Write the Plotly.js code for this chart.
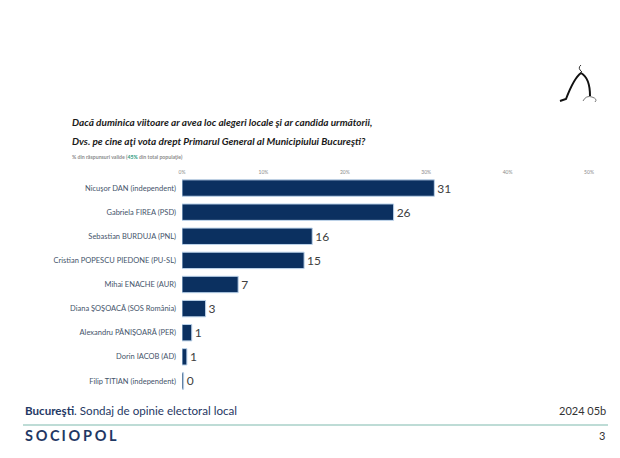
<!DOCTYPE html>
<html>
<head>
<meta charset="utf-8">
<script src="https://cdn.plot.ly/plotly-3.0.1.min.js"></script>
<style>html,body{margin:0;padding:0;background:#fff;}#chart{width:620px;height:458px;}</style>
</head>
<body>
<div id="chart"></div>
<script>
const candidates = [
  "Nicuşor DAN (independent)",
  "Gabriela FIREA (PSD)",
  "Sebastian BURDUJA (PNL)",
  "Cristian POPESCU PIEDONE (PU-SL)",
  "Mihai ENACHE (AUR)",
  "Diana ŞOŞOACĂ (SOS România)",
  "Alexandru PĂNIŞOARĂ (PER)",
  "Dorin IACOB (AD)",
  "Filip TITIAN (independent)"
];
const shares = [31, 26, 16, 15, 6.9, 2.9, 1.2, 0.6, 0.2];
const tickValues = [0, 10, 20, 30, 40, 50];
const tickLabels = ["0%", "10%", "20%", "30%", "40%", "50%"];

const W = 620, H = 458;
const px = x => x / W;
const py = y => 1 - y / H;

const trace = {
  type: 'bar',
  orientation: 'h',
  y: candidates,
  x: shares,
  marker: { color: '#0b3060', line: { color: '#bcd3ea', width: 1 } },
  text: shares.map(v => Math.round(v).toString()),
  textposition: 'outside',
  textfont: { family: 'Lato, "Open Sans", sans-serif', size: 12, color: '#404040' },
  cliponaxis: false,
  hoverinfo: 'skip'
};

const layout = {
  width: W, height: H,
  margin: { l: 0, r: 0, t: 0, b: 0 },
  paper_bgcolor: '#ffffff',
  plot_bgcolor: '#ffffff',
  showlegend: false,
  bargap: 0.32,
  xaxis: {
    domain: [px(182), px(589)],
    range: [0, 50],
    side: 'top',
    tickmode: 'array',
    tickvals: tickValues,
    ticktext: tickLabels,
    tickfont: { family: 'Lato, sans-serif', size: 5, color: '#8a8a8a' },
    showgrid: false, zeroline: false, showline: false, ticks: '',
    fixedrange: true
  },
  yaxis: {
    domain: [py(393), py(176)],
    autorange: 'reversed',
    tickfont: { family: 'Lato, "Open Sans", sans-serif', size: 7.5, color: '#44546a' },
    showgrid: false, zeroline: false, showline: false, ticks: '',
    ticklabelstandoff: 5,
    fixedrange: true
  },
  annotations: [
    { xref: 'paper', yref: 'paper', x: px(70), y: py(122), xanchor: 'left', yanchor: 'middle', showarrow: false,
      text: '<b><i>Dacă duminica viitoare ar avea loc alegeri locale şi ar candida următorii,</i></b>',
      font: { family: 'Lato, sans-serif', size: 10, color: '#1a1a1a' } },
    { xref: 'paper', yref: 'paper', x: px(70), y: py(141), xanchor: 'left', yanchor: 'middle', showarrow: false,
      text: '<b><i>Dvs. pe cine aţi vota drept Primarul General al Municipiului Bucureşti?</i></b>',
      font: { family: 'Lato, sans-serif', size: 10, color: '#1a1a1a' } },
    { xref: 'paper', yref: 'paper', x: px(70), y: py(157), xanchor: 'left', yanchor: 'middle', showarrow: false,
      text: '<b>% din răspunsuri valide (<span style="color:#2e9a7e">45%</span> din total populaţie)</b>',
      font: { family: 'Lato, sans-serif', size: 5.2, color: '#8c8c8c' } },
    { xref: 'paper', yref: 'paper', x: px(23), y: py(410), xanchor: 'left', yanchor: 'middle', showarrow: false,
      text: '<b>Bucureşti</b>. Sondaj de opinie electoral local',
      font: { family: 'Lato, sans-serif', size: 11.6, color: '#1f3864' } },
    { xref: 'paper', yref: 'paper', x: px(608), y: py(410), xanchor: 'right', yanchor: 'middle', showarrow: false,
      text: '2024 05b',
      font: { family: 'Lato, sans-serif', size: 11, color: '#333333' } },
    { xref: 'paper', yref: 'paper', x: px(23), y: py(435), xanchor: 'left', yanchor: 'middle', showarrow: false,
      text: '<b>S\u2009\u200aO\u2009\u200aC\u2009I\u2009\u200aO\u2009\u200aP\u2009\u200aO\u2009\u200aL</b>',
      font: { family: 'Lato, sans-serif', size: 14.5, color: '#1f3864' } },
    { xref: 'paper', yref: 'paper', x: px(607), y: py(435), xanchor: 'right', yanchor: 'middle', showarrow: false,
      text: '3',
      font: { family: 'Lato, sans-serif', size: 11, color: '#333333' } }
  ],
  shapes: [
    { type: 'line', xref: 'paper', yref: 'paper', x0: px(23), x1: px(608), y0: py(425), y1: py(425),
      line: { color: '#a9d0c8', width: 1.5 } },
    { type: 'path', xref: 'paper', yref: 'paper',
      path: `M ${px(560)} ${py(101)} L ${px(566)} ${py(99)} Q ${px(574)} ${py(78)} ${px(581)} ${py(73)} Q ${px(590)} ${py(78)} ${px(590)} ${py(96)}`,
      line: { color: '#111111', width: 2 } },
    { type: 'path', xref: 'paper', yref: 'paper',
      path: `M ${px(582)} ${py(72)} Q ${px(577)} ${py(68)} ${px(581)} ${py(65)}`,
      line: { color: '#333333', width: 1 } },
    { type: 'path', xref: 'paper', yref: 'paper',
      path: `M ${px(583)} ${py(101)} Q ${px(586)} ${py(95)} ${px(592)} ${py(97)} Q ${px(598)} ${py(99)} ${px(595)} ${py(102)}`,
      line: { color: '#555555', width: 0.8 } }
  ]
};

Plotly.newPlot('chart', [trace], layout, { displayModeBar: false, staticPlot: true });
</script>
</body>
</html>
